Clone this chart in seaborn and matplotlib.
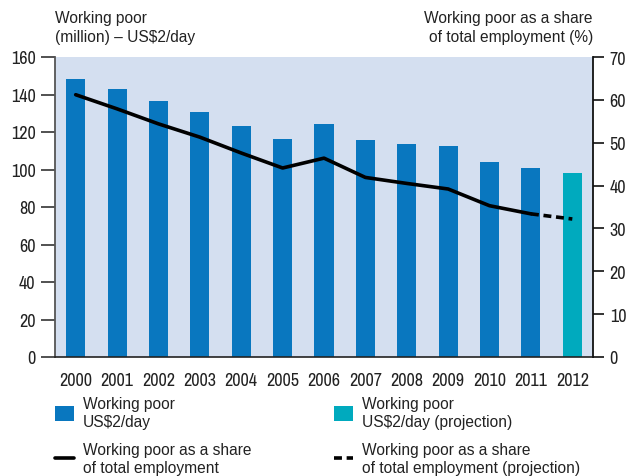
import matplotlib
matplotlib.use("Agg")
import matplotlib.pyplot as plt
from matplotlib.lines import Line2D
from matplotlib.patches import Patch
import seaborn as sns
import pandas as pd

years = ["2000", "2001", "2002", "2003", "2004", "2005", "2006",
         "2007", "2008", "2009", "2010", "2011", "2012"]
working_poor_million = [148.3, 142.9, 136.5, 130.7, 123.2, 116.3, 124.3,
                        115.7, 113.6, 112.5, 104.0, 100.8, 98.1]
share_of_employment = [61.2, 57.9, 54.4, 51.3, 47.6, 44.1, 46.4,
                       41.9, 40.5, 39.2, 35.3, 33.4, 32.2]
projection = [False] * 12 + [True]

BAR_BLUE = "#0977BF"
BAR_TEAL = "#00AABE"
PANEL_BG = "#D4DFF0"
TEXT = "#222222"
LINE_W = 2.6
DASH = (0, (2.2, 1.3))
LABEL_SIZE = 11.2

sns.set_theme(style="white")
plt.rcParams["font.family"] = ["Liberation Sans", "DejaVu Sans"]
TICK_FONT = ["Archivo Narrow", "Roboto Condensed", "DejaVu Sans"]

df = pd.DataFrame({"year": years, "poor": working_poor_million,
                   "share": share_of_employment, "proj": projection})

fig = plt.figure(figsize=(6.33, 4.77), dpi=100)
ax = fig.add_axes([55 / 633, 1 - 358 / 477, (593 - 55) / 633, 300 / 477])
ax.set_facecolor(PANEL_BG)

sns.barplot(data=df, x="year", y="poor", hue="proj",
            palette={False: BAR_BLUE, True: BAR_TEAL},
            width=0.46, dodge=False, legend=False, ax=ax,
            saturation=1, linewidth=0)
ax.set_xlim(-0.5, len(years) - 0.5)
ax.set_ylim(0, 160)
ax.set_yticks(range(0, 161, 20))
ax.set_xlabel("")
ax.set_ylabel("")

ax2 = ax.twinx()
ax2.set_ylim(0, 70)
ax2.set_yticks(range(0, 71, 10))
xs = list(range(len(years)))
sns.lineplot(x=xs[:12], y=share_of_employment[:12], color="black", lw=LINE_W,
             ax=ax2, legend=False)
ax2.plot(xs[11:], share_of_employment[11:], color="black", lw=LINE_W,
         ls=DASH, solid_capstyle="butt")
ax2.set_xlim(-0.5, len(years) - 0.5)

for a in (ax, ax2):
    for s in a.spines.values():
        s.set_visible(False)
ax.spines["left"].set_visible(True)
ax.spines["left"].set_color("#555555")
ax.spines["left"].set_linewidth(1.3)
ax.spines["bottom"].set_visible(True)
ax.spines["bottom"].set_color("#222222")
ax.spines["bottom"].set_linewidth(1.2)
ax2.spines["right"].set_visible(True)
ax2.spines["right"].set_color("#111111")
ax2.spines["right"].set_linewidth(1.3)

ax.tick_params(axis="y", left=True, length=10, width=1.2, color="#333333",
               pad=4, labelsize=13, labelcolor=TEXT)
ax.tick_params(axis="x", bottom=False, pad=5, labelsize=13, labelcolor=TEXT)
ax2.tick_params(axis="y", right=True, length=8, width=1.2, color="#111111",
                pad=4, labelsize=13, labelcolor=TEXT)
for lab in ax.get_xticklabels() + ax.get_yticklabels() + ax2.get_yticklabels():
    lab.set_fontfamily(TICK_FONT)

fig.text(55 / 633, 1 - 11 / 477, "Working poor\n(million) \u2013 US$2/day",
         ha="left", va="top", fontsize=LABEL_SIZE, color=TEXT, linespacing=1.3)
fig.text(593 / 633, 1 - 11 / 477, "Working poor as a share\nof total employment (%)",
         ha="right", va="top", fontsize=LABEL_SIZE, color=TEXT, linespacing=1.3)

legend_kw = dict(loc="upper left", frameon=False, fontsize=LABEL_SIZE,
                 labelcolor=TEXT, handlelength=1.25, handleheight=1.15,
                 handletextpad=0.55, labelspacing=0.82, borderpad=0,
                 borderaxespad=0)
legends = [
    fig.legend(
        [Patch(facecolor=BAR_BLUE, edgecolor="none"),
         Line2D([], [], color="black", lw=LINE_W)],
        ["Working poor\nUS$2/day",
         "Working poor as a share\nof total employment"],
        bbox_to_anchor=(55 / 633, 1 - 397 / 477), **legend_kw),
    fig.legend(
        [Patch(facecolor=BAR_TEAL, edgecolor="none"),
         Line2D([], [], color="black", lw=LINE_W, ls=DASH)],
        ["Working poor\nUS$2/day (projection)",
         "Working poor as a share\nof total employment (projection)"],
        bbox_to_anchor=(334 / 633, 1 - 397 / 477), **legend_kw),
]
for leg in legends:
    for t in leg.get_texts():
        t.set_linespacing(1.28)

fig.savefig("out.png", dpi=100)
